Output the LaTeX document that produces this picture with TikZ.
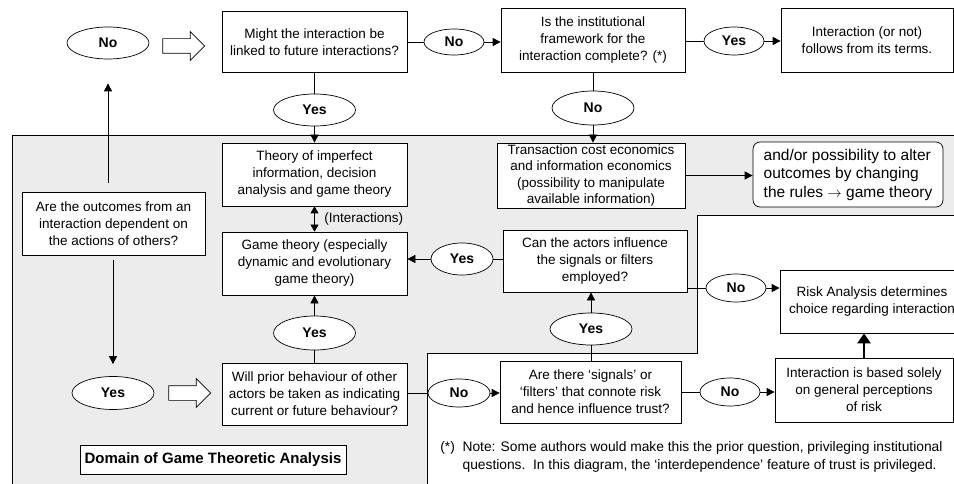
\documentclass[tikz,border=0pt]{standalone}
\usepackage{fontspec}
\setmainfont{Liberation Sans}
\usetikzlibrary{positioning,shapes.geometric,shapes.arrows,arrows.meta}

\begin{document}
\begin{tikzpicture}[x=1pt, y=-1pt, line width=0.7pt,
            tip/.style={-{Triangle[length=8pt,width=8pt]}},
            box/.style={draw, fill=white, align=center, inner sep=1pt,
                minimum width=185pt, minimum height=62pt,
                font=\fontsize{13.5}{17}\selectfont},
            oval/.style={draw, ellipse, fill=white, inner sep=0pt,
                minimum width=60pt, minimum height=28pt,
                font=\fontsize{14}{17}\selectfont\bfseries},
            bigoval/.style={oval, minimum width=82pt, minimum height=32pt},
            fatarrow/.style={draw, fill=white, single arrow, inner sep=7pt,
                single arrow head extend=7pt, minimum width=28pt,
                minimum height=42pt}]

            \useasboundingbox (0,0) rectangle (954,484);

            % shaded domain
            \draw[fill=gray!15] (12,135) -- (962,135) -- (962,215) -- (697,215)
                -- (697,353) -- (427,353) -- (427,492) -- (12,492) -- cycle;

            % top row
            \node[bigoval] (noTop) at (108,43) {No};
            \node[fatarrow] (arrTop) at (180,46) {};
            \node[box, minimum height=61pt] (might) at (314.5,42)
                {Might the interaction be\\linked to future interactions?};
            \node[oval, minimum height=26pt] (noMight) at (454,42) {No};
            \node[box, minimum width=184pt, minimum height=64pt] (inst) at (593,40)
                {Is the institutional\\framework for the\\interaction complete? (*)};
            \node[oval] (yesInst) at (734,41) {Yes};
            \node[box, minimum width=172pt, minimum height=64pt] (terms) at (867,40)
                {Interaction (or not)\\follows from its terms.};
            \node[bigoval] (yesMight) at (314.5,110) {Yes};
            \node[bigoval, minimum height=34pt] (noInst) at (593,108) {No};

            % inside the domain
            \node[box, minimum height=63pt] (theory) at (314.5,174.5)
                {Theory of imperfect\\information, decision\\analysis and game theory};
            \node[box, minimum height=63pt] (game) at (314.5,263.5)
                {Game theory (especially\\dynamic and evolutionary\\game theory)};
            \node[anchor=west, inner sep=0pt, font=\fontsize{13.5}{17}\selectfont]
                (inter) at (324,219) {(Interactions)};
            \node[box, minimum width=188pt, minimum height=65pt,
                font=\fontsize{13.5}{16.5}\selectfont] (trans) at (591,175.5)
                {Transaction cost economics\\and information economics\\(possibility to manipulate\\available information)};
            \node[box, rounded corners=7pt, align=left, minimum width=190pt,
                minimum height=65pt, font=\fontsize{15.5}{18.5}\selectfont] (alter) at (848,174.5)
                {and/or possibility to alter\\outcomes by changing\\the rules $\rightarrow$ game theory};
            \node[box, minimum width=183pt, minimum height=63pt] (outcomes) at (113.5,223.5)
                {Are the outcomes from an\\interaction dependent on\\the actions of others?};
            \node[box, minimum width=184pt] (can) at (595,261)
                {Can the actors influence\\the signals or filters\\employed?};
            \node[oval, minimum width=62pt, minimum height=32pt] (yesCan) at (462,259) {Yes};
            \node[oval] (noCan) at (736,288) {No};
            \node[box, minimum width=184pt, minimum height=63pt] (risk) at (872,301.5)
                {Risk Analysis determines\\choice regarding interaction};
            \node[bigoval, minimum height=34pt] (yesGame) at (314.5,333) {Yes};
            \node[bigoval] (yesSig) at (591,329) {Yes};
            \node[bigoval, minimum height=33pt] (yesLow) at (113,393) {Yes};
            \node[fatarrow] (arrLow) at (186,393) {};
            \node[box] (prior) at (314.5,394)
                {Will prior behaviour of other\\actors be taken as indicating\\current or future behaviour?};
            \node[oval, minimum width=62pt] (noPrior) at (459,393) {No};
            \node[box, minimum width=181pt] (signals) at (590.5,392)
                {Are there ‘signals’ or\\‘filters’ that connote risk\\and hence influence trust?};
            \node[oval] (noSig) at (730,392) {No};
            \node[box, minimum width=178pt, minimum height=64pt] (based) at (864,390)
                {Interaction is based solely\\on general perceptions\\of risk};
            \node[draw, fill=white, minimum width=266pt, minimum height=29pt,
                font=\fontsize{15}{17}\selectfont\bfseries] (domain) at (213,459.5)
                {Domain of Game Theoretic Analysis};
            \node[anchor=north west, inner sep=0pt, font=\fontsize{13.8}{18}\selectfont]
                (note) at (440,439)
                {\begin{tabular}{@{}l@{\ \ }l@{}}
                (*)&Note: Some authors would make this the prior question, privileging institutional\\
                &questions.\ \ In this diagram, the ‘interdependence’ feature of trust is privileged.
                \end{tabular}};

            % connectors
            \draw (might) -- (noMight);
            \draw[tip] (noMight.east) -- (noMight.east -| inst.west);
            \draw (inst.east |- yesInst) -- (yesInst);
            \draw[tip] (yesInst.east) -- (yesInst.east -| terms.west);
            \draw (might.south -| yesMight) -- (yesMight);
            \draw[tip] (yesMight.south) -- (yesMight.south |- theory.north);
            \draw (inst.south -| noInst) -- (noInst);
            \draw[tip] (noInst.south) -- (noInst.south |- trans.north);
            \draw[tip] (trans.east) -- (trans.east -| alter.west);
            \draw[{Triangle[length=7pt,width=8pt]}-{Triangle[length=7pt,width=8pt]}]
                (theory) -- (game);
            \draw[tip, shorten <=9pt, shorten >=24pt] (outcomes.north -| noTop) -- (noTop.south);
            \draw[tip, shorten <=5pt, shorten >=12pt] (outcomes.south -| yesLow) -- (yesLow.north);
            \draw (can.west |- yesCan) -- (yesCan);
            \draw[tip] (yesCan.west) -- (yesCan.west -| game.east);
            \draw (noCan -| can.east) -- (noCan);
            \draw[tip] (noCan.east) -- (noCan.east -| risk.west);
            \draw (prior.north) -- (yesGame);
            \draw[tip] (yesGame.north) -- (yesGame.north |- game.south);
            \draw (prior.east |- noPrior) -- (noPrior);
            \draw[tip] (noPrior.east) -- (noPrior.east -| signals.west);
            \draw (signals.north -| yesSig) -- (yesSig);
            \draw[tip] (yesSig.north) -- (yesSig.north |- can.south);
            \draw (signals.east |- noSig) -- (noSig);
            \draw[tip] (noSig.east) -- (noSig.east -| based.west);
            \draw[line width=2.5pt, -{Triangle[length=10pt,width=13pt]}]
                (based.north) -- (based.north |- risk.south);
\end{tikzpicture}
\end{document}
